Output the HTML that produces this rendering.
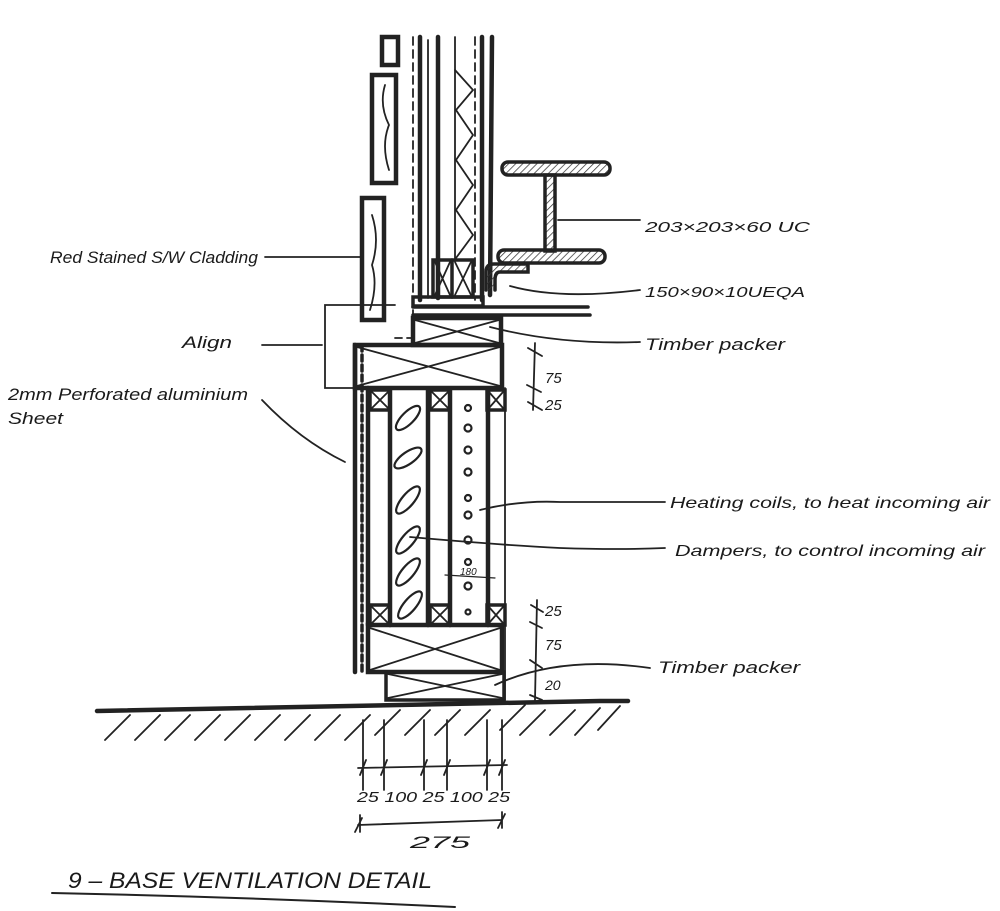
<!DOCTYPE html>
<html><head><meta charset="utf-8"><style>
html,body{margin:0;padding:0;background:#fff;}
svg{display:block;}
text{font-family:"Liberation Sans",sans-serif;font-style:italic;fill:#1a1a1a;}
</style></head><body>
<svg width="1000" height="911" viewBox="0 0 1000 911" xmlns="http://www.w3.org/2000/svg">
<defs>
<pattern id="h" width="5" height="5" patternUnits="userSpaceOnUse" patternTransform="rotate(45)"><line x1="0" y1="0" x2="0" y2="5" stroke="#333" stroke-width="1.5"/></pattern>
</defs>
<g stroke="#222" fill="none" stroke-linecap="round">
<rect x="382" y="37" width="16" height="28" stroke-width="4.5"/>
<rect x="372" y="75" width="24" height="108" stroke-width="4.5"/>
<rect x="362" y="198" width="22" height="122" stroke-width="4.5"/>
<path d="M385 85 q-6 20 4 40 q-8 20 0 45 M372 215 q8 25 0 50 q6 20 -2 45" stroke-width="1.8"/>
<path d="M413 37 V338 H395" stroke-width="1.8" stroke-dasharray="8 5"/>
<path d="M475 37 V300" stroke-width="1.8" stroke-dasharray="8 5"/>
<line x1="420" y1="37" x2="420" y2="300" stroke-width="4.5"/>
<line x1="428" y1="40" x2="428" y2="298" stroke-width="1.8"/>
<line x1="438" y1="37" x2="438" y2="298" stroke-width="4.5"/>
<line x1="455" y1="37" x2="455" y2="260" stroke-width="1.8"/>
<line x1="482" y1="37" x2="482" y2="300" stroke-width="4.5"/>
<line x1="492" y1="37" x2="490" y2="295" stroke-width="4.5"/>
<path d="M455 70 L473 90 L456 110 L473 135 L456 160 L473 185 L456 210 L473 235 L456 258" stroke-width="1.8"/>
<rect x="433" y="260" width="40" height="37" stroke-width="3.5"/>
<line x1="452" y1="260" x2="452" y2="297" stroke-width="3.5"/>
<path d="M435 262 L450 295 M450 262 L435 295 M455 262 L471 295 M471 262 L455 295" stroke-width="1.8"/>
<rect x="413" y="297" width="70" height="9" stroke-width="3.5"/>
<line x1="413" y1="307" x2="588" y2="307" stroke-width="3.5"/>
<line x1="413" y1="315" x2="590" y2="315" stroke-width="3.5"/>
<rect x="502" y="162" width="108" height="13" rx="6" fill="url(#h)" stroke-width="3.5"/>
<rect x="545" y="175" width="10" height="76" fill="url(#h)" stroke-width="3.5"/>
<rect x="498" y="250" width="107" height="13" rx="6" fill="url(#h)" stroke-width="3.5"/>
<path d="M486 290 V272 q0-8 8-8 H528 V272 H500 q-5 0 -5 8 V290" fill="url(#h)" stroke-width="3.5"/>
<rect x="413" y="318" width="88" height="27" stroke-width="4.5"/>
<path d="M415 320 L499 343 M499 320 L415 343" stroke-width="1.8"/>
<path d="M395 305 H325 V388 H360" stroke-width="1.8"/>
<rect x="355" y="345" width="147" height="43" stroke-width="4.5"/>
<path d="M357 347 L500 386 M500 347 L357 386" stroke-width="1.8"/>
<line x1="355" y1="345" x2="355" y2="672" stroke-width="4.5"/>
<line x1="362" y1="345" x2="362" y2="672" stroke-width="3.5" stroke-dasharray="6 4"/>
<line x1="368" y1="388" x2="368" y2="625" stroke-width="4.5"/>
<line x1="390" y1="390" x2="390" y2="625" stroke-width="4.5"/>
<line x1="428" y1="390" x2="428" y2="625" stroke-width="4.5"/>
<line x1="450" y1="390" x2="450" y2="625" stroke-width="4.5"/>
<line x1="488" y1="390" x2="488" y2="625" stroke-width="4.5"/>
<line x1="505" y1="388" x2="505" y2="700" stroke-width="1.8"/>
<g stroke-width="3.5">
<rect x="370" y="390" width="20" height="20"/><rect x="430" y="390" width="20" height="20"/><rect x="487" y="390" width="18" height="20"/>
<rect x="370" y="605" width="20" height="20"/><rect x="430" y="605" width="20" height="20"/><rect x="487" y="605" width="18" height="20"/>
</g>
<path d="M372 392 L388 408 M388 392 L372 408 M432 392 L448 408 M448 392 L432 408 M489 392 L503 408 M503 392 L489 408 M372 607 L388 623 M388 607 L372 623 M432 607 L448 623 M448 607 L432 623 M489 607 L503 623 M503 607 L489 623" stroke-width="1.8"/>
<g stroke-width="2.2">
<ellipse cx="408" cy="418" rx="6" ry="16" transform="rotate(45 408 418)"/>
<ellipse cx="408" cy="458" rx="6" ry="16" transform="rotate(55 408 458)"/>
<ellipse cx="408" cy="500" rx="6" ry="17" transform="rotate(40 408 500)"/>
<ellipse cx="408" cy="540" rx="6" ry="17" transform="rotate(40 408 540)"/>
<ellipse cx="408" cy="572" rx="6" ry="17" transform="rotate(40 408 572)"/>
<ellipse cx="410" cy="605" rx="6" ry="17" transform="rotate(40 410 605)"/>
</g>
<g stroke-width="2.2">
<circle cx="468" cy="408" r="3"/><circle cx="468" cy="428" r="3.5"/><circle cx="468" cy="450" r="3.5"/><circle cx="468" cy="472" r="3.5"/><circle cx="468" cy="498" r="3"/><circle cx="468" cy="515" r="3.5"/><circle cx="468" cy="540" r="3.5"/><circle cx="468" cy="562" r="3"/><circle cx="468" cy="586" r="3.5"/><circle cx="468" cy="612" r="2.5"/>
</g>
<line x1="445" y1="575" x2="495" y2="578" stroke-width="1.2"/>
<rect x="368" y="625" width="134" height="47" stroke-width="4.5"/>
<path d="M370 628 L500 670 M500 628 L370 670" stroke-width="1.8"/>
<rect x="386" y="672" width="118" height="28" stroke-width="3.5"/>
<path d="M388 674 L502 698 M502 674 L388 698" stroke-width="1.8"/>
<path d="M97 711 L600 701 L628 701" stroke-width="4.5"/>
<g stroke-width="1.8">
<path d="M105 740 L130 715 M135 740 L160 715 M165 740 L190 715 M195 740 L220 715 M225 740 L250 715 M255 740 L280 715 M285 740 L310 715 M315 740 L340 715 M345 740 L370 715 M375 735 L400 710 M405 735 L430 710 M435 735 L460 710 M465 735 L490 710 M500 730 L525 705 M520 735 L545 710 M550 735 L575 710 M575 735 L600 708 M598 730 L620 706"/>
</g>
<g stroke-width="1.8">
<line x1="535" y1="343" x2="533" y2="410"/>
<path d="M528 348 L542 356 M527 385 L541 392 M528 402 L542 410"/>
<line x1="537" y1="600" x2="535" y2="700"/>
<path d="M531 605 L543 612 M530 622 L542 628 M530 660 L542 668 M530 695 L542 700"/>
<line x1="358" y1="768" x2="507" y2="765"/>
<path d="M363 720 V790 M384 720 V790 M424 720 V790 M447 720 V790 M487 720 V790 M502 720 V790"/>
<path d="M360 775 L366 760 M381 775 L387 760 M421 775 L427 760 M444 775 L450 760 M484 775 L490 760 M499 775 L505 760"/>
<line x1="358" y1="825" x2="502" y2="820"/>
<path d="M355 832 L362 818 M498 828 L505 814 M360 815 V832 M502 812 V828"/>
<path d="M265 257 H360"/>
<path d="M262 345 H322"/>
<path d="M262 400 Q300 440 345 462"/>
<path d="M558 220 H640"/>
<path d="M510 286 Q560 300 640 290"/>
<path d="M490 327 Q560 345 640 342"/>
<path d="M480 510 Q520 500 560 502 Q620 502 665 502"/>
<path d="M410 537 Q500 545 560 548 Q620 550 665 548"/>
<path d="M495 685 Q560 655 650 668"/>
<path d="M52 893 Q250 897 455 907" stroke-width="2"/>
</g>
</g>
<g font-size="17">
<text x="50" y="263" textLength="208" lengthAdjust="spacingAndGlyphs">Red Stained S/W Cladding</text>
<text x="182" y="348" textLength="50" lengthAdjust="spacingAndGlyphs">Align</text>
<text x="8" y="400" textLength="240" lengthAdjust="spacingAndGlyphs">2mm Perforated aluminium</text>
<text x="8" y="424" textLength="55" lengthAdjust="spacingAndGlyphs">Sheet</text>
<text x="645" y="232" font-size="15" textLength="165" lengthAdjust="spacingAndGlyphs">203×203×60 UC</text>
<text x="645" y="297" font-size="15" textLength="160" lengthAdjust="spacingAndGlyphs">150×90×10UEQA</text>
<text x="645" y="350" textLength="140" lengthAdjust="spacingAndGlyphs">Timber packer</text>
<text x="670" y="508" font-size="16" textLength="320" lengthAdjust="spacingAndGlyphs">Heating coils, to heat incoming air</text>
<text x="675" y="556" font-size="16" textLength="310" lengthAdjust="spacingAndGlyphs">Dampers, to control incoming air</text>
<text x="658" y="673" textLength="142" lengthAdjust="spacingAndGlyphs">Timber packer</text>
<text x="545" y="383" font-size="15">75</text>
<text x="545" y="410" font-size="15">25</text>
<text x="545" y="616" font-size="15">25</text>
<text x="545" y="650" font-size="15">75</text>
<text x="545" y="690" font-size="14">20</text>
<text x="460" y="575" font-size="10">180</text>
<text x="357" y="802" font-size="15" textLength="153" lengthAdjust="spacingAndGlyphs">25 100 25 100 25</text>
<text x="410" y="848" font-size="17" textLength="60" lengthAdjust="spacingAndGlyphs">275</text>
<text x="68" y="888" font-size="22" textLength="364" lengthAdjust="spacingAndGlyphs">9 – BASE VENTILATION DETAIL</text>
</g>
</svg>
</body></html>
